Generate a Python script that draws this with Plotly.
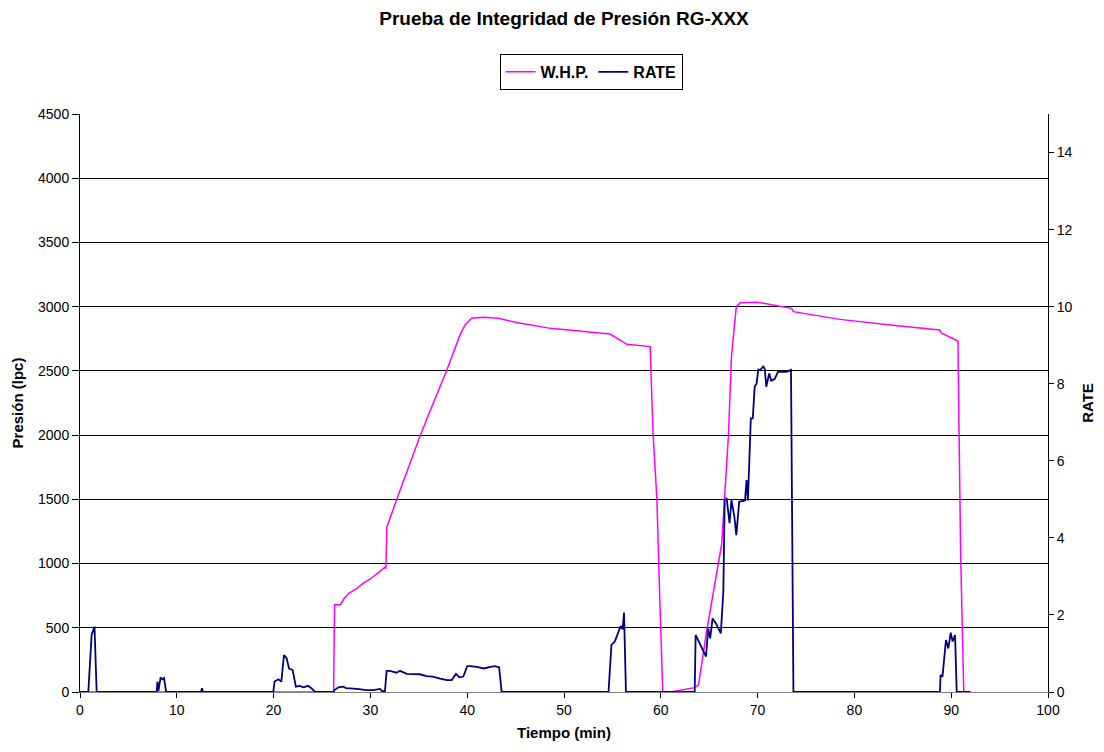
import plotly.graph_objects as go

# Wellhead pressure (lpc) vs time (min)
whp_t = [0, 26.2, 26.3, 26.9, 27.3, 27.8, 28.5, 29.3, 30.0, 30.8, 31.3, 31.5, 31.6, 31.7,
         32.7, 34.0, 35.1, 36.5, 37.9, 39.26, 39.8, 40.46, 41.7, 43.2, 45.1, 48.6, 51.3,
         54.75, 56.5, 58.9, 59.2, 59.6, 59.9, 60.2, 61.0, 62.0, 63.5, 63.9, 64.7, 66.3,
         66.6, 67.0, 67.3, 67.8, 68.2, 69.9, 70.6, 73.5, 73.7, 78.5, 83.7, 88.8, 89.0,
         90.7, 90.8, 90.98, 91.3]
whp_p = [0, 0, 680, 680, 730, 770, 800, 850, 880, 930, 960, 970, 960, 1285,
         1495, 1760, 1988, 2250, 2507, 2780, 2860, 2910, 2917, 2910, 2876, 2831, 2811,
         2787, 2707, 2689, 2014, 1495, 716, 0, 0, 15, 34, 55, 457, 1157,
         1495, 2014, 2611, 3000, 3031, 3034, 3026, 2987, 2961, 2901, 2857, 2818, 2793,
         2733, 2092, 1054, 0]

# Pump rate vs time (min)
rate_t = [0, 0.86, 1.2, 1.38, 1.5, 1.72, 7.92, 8.0, 8.1, 8.33, 8.5, 8.68, 8.9, 12.5, 12.6, 12.7,
          19.97, 20.1, 20.5, 20.8, 21.07, 21.35, 21.6, 21.97, 22.3, 22.7, 23.1, 23.55, 23.9, 24.3,
          26.2, 26.3, 26.7, 27.2, 27.5, 28.6, 29.6, 30.3, 31.0, 31.2, 31.5, 31.68, 32.0, 32.7,
          33.06, 33.75, 34.4, 35.1, 35.8, 36.45, 37.2, 37.9, 38.4, 38.84, 39.2, 39.6, 40.0, 40.3,
          41.0, 41.7, 42.4, 42.9, 43.3, 43.56, 54.6, 54.9, 55.25, 55.5, 55.85, 56.06, 56.2, 56.4,
          63.5, 63.6, 63.9, 64.4, 64.67, 64.9, 65.1, 65.35, 65.7, 66.2, 66.46, 66.6, 66.8, 67.1,
          67.3, 67.6, 67.8, 68.1, 68.7, 68.86, 69.0, 69.3, 69.5, 69.7, 69.9, 70.07, 70.3, 70.6,
          70.75, 70.9, 71.2, 71.4, 71.76, 72.1, 73.0, 73.45, 73.7, 88.84, 88.9, 89.1, 89.46,
          89.7, 89.95, 90.15, 90.4, 90.57, 92.0]
rate_v = [0, 0, 1.48, 1.65, 1.70, 0, 0, 0.27, 0.03, 0.38, 0.33, 0.36, 0, 0, 0.1, 0,
          0, 0.27, 0.33, 0.27, 0.96, 0.87, 0.61, 0.57, 0.14, 0.16, 0.12, 0.16, 0.1, 0,
          0, 0.05, 0.12, 0.14, 0.1, 0.08, 0.05, 0.05, 0.08, 0.02, 0.02, 0.55, 0.55, 0.5,
          0.55, 0.47, 0.46, 0.46, 0.41, 0.40, 0.35, 0.31, 0.31, 0.47, 0.38, 0.40, 0.67, 0.67,
          0.65, 0.61, 0.65, 0.67, 0.64, 0, 0, 1.22, 1.31, 1.48, 1.71, 1.63, 2.06, 0,
          0, 1.48, 1.31, 1.05, 0.92, 1.65, 1.39, 1.91, 1.78, 1.52, 2.6, 4.98, 5.03, 4.38,
          4.98, 4.55, 4.07, 4.94, 4.97, 5.5, 4.97, 7.1, 7.1, 7.92, 8.01, 8.37, 8.36, 8.46,
          8.37, 7.92, 8.27, 8.08, 8.12, 8.31, 8.31, 8.36, 0, 0, 0.44, 0.40, 1.35,
          1.13, 1.54, 1.31, 1.48, 0, 0]

FONT = "Liberation Sans, Arial, sans-serif"

fig = go.Figure()
fig.add_trace(go.Scatter(x=whp_t, y=whp_p, mode="lines", name="<b>W.H.P.</b>",
                         line=dict(color="#FF00FF", width=1.5), yaxis="y"))
fig.add_trace(go.Scatter(x=rate_t, y=rate_v, mode="lines", name="<b>RATE</b>",
                         line=dict(color="#000080", width=1.8), yaxis="y2"))

fig.update_layout(
    width=1104, height=752,
    margin=dict(l=80, r=56, t=114, b=60),
    paper_bgcolor="white", plot_bgcolor="white",
    font=dict(family=FONT, size=14, color="black"),
    title=dict(text="<b>Prueba de Integridad de Presión RG-XXX</b>",
               x=0.5, xref="paper", xanchor="center", y=0.976, yanchor="middle",
               font=dict(size=19, family=FONT)),
    legend=dict(orientation="h", x=0.528, xanchor="center", y=1.104, yanchor="top",
                bordercolor="black", borderwidth=1, bgcolor="white",
                font=dict(size=16, family=FONT), itemwidth=30,
                tracegroupgap=0),
    xaxis=dict(range=[0, 100], dtick=10, tick0=0, showgrid=False,
               showline=True, linecolor="#808080", linewidth=1,
               ticks="outside", ticklen=5, tickcolor="black",
               zeroline=False, automargin=False,
               title=dict(text="<b>Tiempo (min)</b>", font=dict(size=15), standoff=10)),
    yaxis=dict(range=[0, 4500], dtick=500, tick0=0, showgrid=True,
               gridcolor="black", gridwidth=1,
               showline=True, linecolor="black", linewidth=1,
               ticks="outside", ticklen=7, tickcolor="black",
               zeroline=False, automargin=False,
               title=dict(text="<b>Presión (lpc)</b>", font=dict(size=15), standoff=10)),
    yaxis2=dict(range=[0, 15], dtick=2, tick0=0, overlaying="y", side="right",
                showgrid=False, showline=True, linecolor="black", linewidth=1,
                ticks="outside", ticklen=5, tickcolor="black", zeroline=False,
                automargin=False,
                title=dict(text="<b>RATE</b>", font=dict(size=15), standoff=10)),
    yaxis3=dict(range=[0, 15], dtick=2, tick0=0, overlaying="y", side="right",
                showgrid=False, showline=False, showticklabels=False,
                ticks="inside", ticklen=5, tickcolor="black", zeroline=False,
                automargin=False),
)

fig.write_html("out.html")
